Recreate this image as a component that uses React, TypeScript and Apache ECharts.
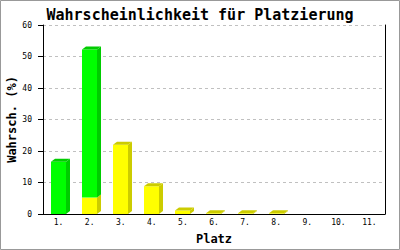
import React, { useEffect, useRef } from "react";
import * as echarts from "echarts";

const categories = ["1.", "2.", "3.", "4.", "5.", "6.", "7.", "8.", "9.", "10.", "11."];
const yellowValues = [0, 5.2, 22.0, 8.8, 1.1, 0.2, 0.2, 0.2, 0, 0, 0];
const greenValues = [16.6, 47.0, 0, 0, 0, 0, 0, 0, 0, 0, 0];
const yMin = 0;
const yMax = 60;
const yInterval = 10;

const titleText = "Wahrscheinlichkeit für Platzierung";
const xName = "Platz";
const yName = "Wahrsch. (%)";

const FONT = "DejaVu Sans Mono";

export default function App() {
  const ref = useRef<HTMLDivElement>(null);
  useEffect(() => {
    if (!ref.current) return;
    const chart = echarts.init(ref.current, null, { renderer: "svg" });
    const dx = 4;
    const dy = 3;
    const data = categories.map((_, i) => [i, yellowValues[i], greenValues[i]]);
    const renderItem = (params: any, api: any) => {
      const idx = api.value(0);
      const yv = api.value(1);
      const gv = api.value(2);
      const total = yv + gv;
      if (total <= 0) return { type: "group", children: [] };
      const bandW = api.size([1, 0])[0];
      const w = Math.round(bandW * 0.48);
      const c = api.coord([idx, 0]);
      const x0 = Math.round(c[0] - w / 2);
      const x1 = x0 + w;
      const segs = [
        { from: 0, to: yv, front: "#ffff00", dark: "#cccc00" },
        { from: yv, to: total, front: "#00ff00", dark: "#00cc00" },
      ].filter((s) => s.to > s.from);
      const children: any[] = [];
      segs.forEach((s, si) => {
        const yb = api.coord([idx, s.from])[1];
        const yt = api.coord([idx, s.to])[1];
        children.push({
          type: "rect",
          shape: { x: x0, y: yt, width: w, height: yb - yt },
          style: { fill: s.front },
        });
        children.push({
          type: "polygon",
          shape: {
            points: [
              [x1, yt],
              [x1 + dx, yt - dy],
              [x1 + dx, yb - dy],
              [x1, yb],
            ],
          },
          style: { fill: s.dark },
        });
        if (si === segs.length - 1) {
          children.push({
            type: "polygon",
            shape: {
              points: [
                [x0, yt],
                [x0 + dx, yt - dy],
                [x1 + dx, yt - dy],
                [x1, yt],
              ],
            },
            style: { fill: s.dark },
          });
        }
      });
      return { type: "group", children };
    };
    chart.setOption({
      animation: false,
      backgroundColor: "#ffffff",
      title: {
        text: titleText,
        left: "center",
        top: 2,
        textStyle: { fontFamily: FONT, fontSize: 15, fontWeight: "bold", color: "#000" },
      },
      grid: { left: 43, right: 15, top: 25, bottom: 36, containLabel: false, outerBoundsMode: "none" },
      xAxis: {
        type: "category",
        data: categories,
        name: xName,
        nameLocation: "middle",
        nameGap: 19,
        nameMoveOverlap: false,
        nameTextStyle: { fontFamily: FONT, fontSize: 12, fontWeight: "bold", color: "#000" },
        axisLine: { show: true, lineStyle: { color: "#000", width: 1 } },
        axisTick: { show: false },
        axisLabel: { fontFamily: FONT, fontSize: 8, color: "#000", margin: 4 },
        splitLine: { show: false },
      },
      yAxis: [
        {
          type: "value",
          min: yMin,
          max: yMax,
          interval: yInterval,
          name: yName,
          nameLocation: "middle",
          nameGap: 25,
          nameMoveOverlap: false,
          nameTextStyle: { fontFamily: FONT, fontSize: 12, fontWeight: "bold", color: "#000" },
          axisLine: { show: true, lineStyle: { color: "#000", width: 1 } },
          axisTick: { show: true, inside: false, length: 5, lineStyle: { color: "#000" } },
          axisLabel: { fontFamily: FONT, fontSize: 8, color: "#000", margin: 11 },
          splitLine: { show: true, lineStyle: { color: "#c0c0c0", type: [3, 3], width: 1 } },
        },
        {
          type: "value",
          min: yMin,
          max: yMax,
          interval: yInterval,
          position: "right",
          axisLine: { show: true, lineStyle: { color: "#000", width: 1 } },
          axisTick: { show: false },
          axisLabel: { show: false },
          splitLine: { show: false },
        },
      ],
      graphic: [
        {
          type: "rect",
          shape: { x: 0.5, y: 0.5, width: 399, height: 249 },
          style: { fill: "none", stroke: "#999999", lineWidth: 1 },
          silent: true,
        },
      ],
      series: [
        {
          type: "custom",
          renderItem,
          data,
          encode: { x: 0, y: [1, 2] },
          clip: false,
        },
      ],
    });
    return () => chart.dispose();
  }, []);
  return (
    <div
      ref={ref}
      style={{ position: "fixed", left: 0, top: 0, width: 400, height: 250 }}
    />
  );
}
